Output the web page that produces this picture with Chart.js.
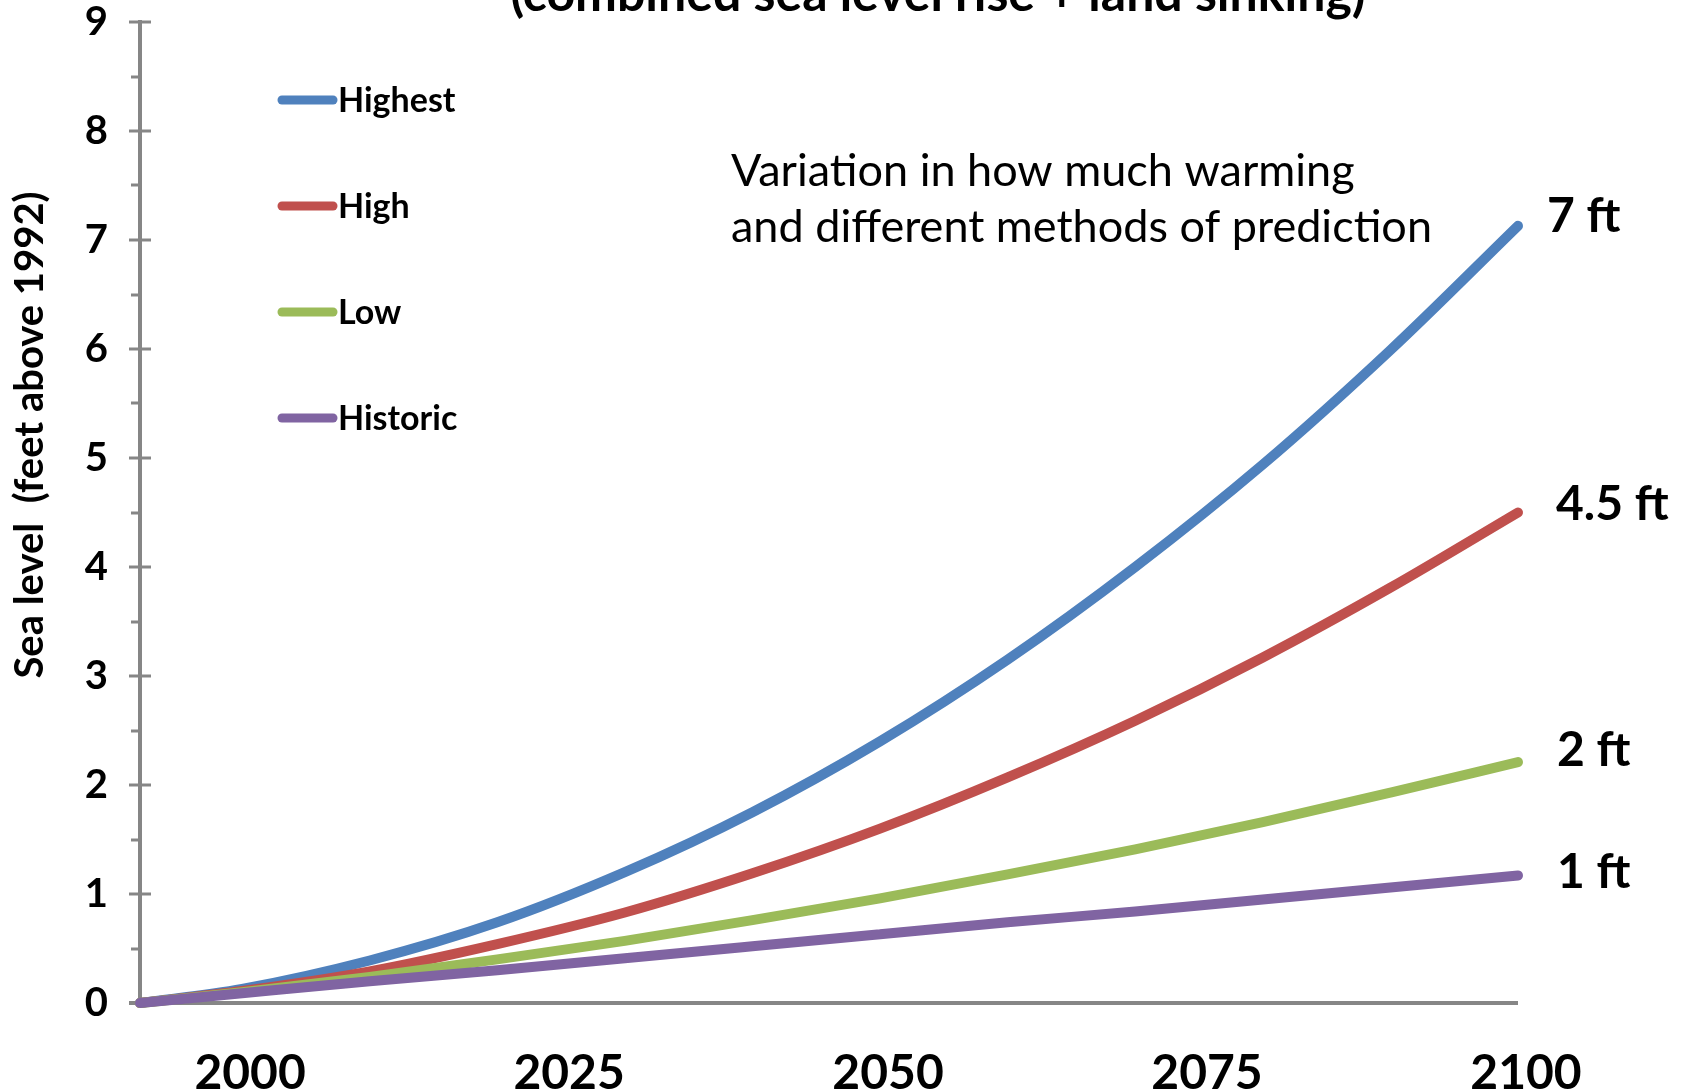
<!DOCTYPE html>
<html>
<head>
<meta charset="utf-8">
<script src="https://cdn.jsdelivr.net/npm/chart.js@4.4.1/dist/chart.umd.min.js"></script>
<style>
  html, body { margin: 0; padding: 0; background: #fff; overflow: hidden; }
  #wrap { width: 1688px; height: 1090px; position: relative; }
</style>
</head>
<body>
<div id="wrap"><canvas id="c" width="1688" height="1090"></canvas></div>
<script>
// Projected sea level (feet above 1992) by scenario
const years    = [1992, 2000, 2010, 2020, 2030, 2040, 2050, 2060, 2070, 2080, 2090, 2100];
const highest  = [0, 0.13, 0.39, 0.74, 1.20, 1.75, 2.40, 3.15, 4.00, 4.94, 5.99, 7.13];
const high     = [0, 0.11, 0.29, 0.54, 0.83, 1.19, 1.60, 2.07, 2.59, 3.17, 3.81, 4.50];
const low      = [0, 0.10, 0.24, 0.40, 0.57, 0.76, 0.96, 1.18, 1.41, 1.66, 1.93, 2.21];
const historic = [0, 0.09, 0.20, 0.30, 0.41, 0.52, 0.63, 0.74, 0.84, 0.95, 1.06, 1.17];

const seriesNames  = ['Highest', 'High', 'Low', 'Historic'];
const seriesValues = [highest, high, low, historic];
const endLabels    = ['7 ft', '4.5 ft', '2 ft', '1 ft'];
const yearTicks    = [2000, 2025, 2050, 2075, 2100];

const titleText = '(combined sea level rise + land sinking)';
const yTitle    = 'Sea level  (feet above 1992)';
const noteLines = ['Variation in how much warming', 'and different methods of prediction'];

const colors = ['#4F81BD', '#C0504D', '#9BBB59', '#8064A2'];
const FONT = 'Lato, "Open Sans", sans-serif';
const AXIS_GREY = '#868686';

const datasets = seriesNames.map((name, i) => ({
  label: name,
  data: years.map((yr, j) => ({ x: yr, y: seriesValues[i][j] })),
  borderColor: colors[i],
  backgroundColor: colors[i],
  borderWidth: 10,
  borderCapStyle: 'round',
  borderJoinStyle: 'round',
  pointRadius: 0,
  cubicInterpolationMode: 'monotone',
  fill: false,
  clip: false,
  order: seriesNames.length - 1 - i   // Historic drawn on top
}));

// Axis lines, crossing major ticks and outside minor ticks
const axesPlugin = {
  id: 'axesPlugin',
  beforeDatasetsDraw(chart) {
    const { ctx, chartArea: a, scales: { x, y } } = chart;
    ctx.save();
    ctx.strokeStyle = AXIS_GREY;
    ctx.lineWidth = 4;
    ctx.lineCap = 'butt';
    ctx.beginPath();
    ctx.moveTo(a.left, y.getPixelForValue(9) - 2);
    ctx.lineTo(a.left, y.getPixelForValue(0));
    ctx.stroke();
    ctx.lineWidth = 3;
    for (let v = 0; v <= 9; v += 0.5) {
      const py = Math.round(y.getPixelForValue(v));
      const major = Number.isInteger(v);
      ctx.beginPath();
      ctx.moveTo(a.left - (major ? 11 : 9), py);
      ctx.lineTo(major ? a.left + 11 : a.left, py);
      ctx.stroke();
    }
    ctx.lineWidth = 4;
    ctx.beginPath();
    const py0 = y.getPixelForValue(0);
    ctx.moveTo(a.left - 11, py0);
    ctx.lineTo(x.getPixelForValue(2100), py0);
    ctx.stroke();
    ctx.restore();
  },
  afterDraw(chart) {
    const { ctx, scales: { x, y } } = chart;
    ctx.save();
    ctx.fillStyle = '#000';

    // title line, mostly above the top edge
    ctx.font = 'bold 50px ' + FONT;
    ctx.textAlign = 'center';
    ctx.textBaseline = 'alphabetic';
    ctx.fillText(titleText, 938, 11);

    // y-axis title
    ctx.save();
    ctx.translate(30, 435);
    ctx.rotate(-Math.PI / 2);
    ctx.font = 'bold 40px ' + FONT;
    ctx.textAlign = 'center';
    ctx.textBaseline = 'middle';
    ctx.fillText(yTitle, 0, 0);
    ctx.restore();

    // legend
    chart.data.datasets.forEach((ds, i) => {
      const ly = 100 + i * 106;
      ctx.strokeStyle = ds.borderColor;
      ctx.lineWidth = 9;
      ctx.lineCap = 'round';
      ctx.beginPath();
      ctx.moveTo(282, ly);
      ctx.lineTo(333, ly);
      ctx.stroke();
      ctx.font = 'bold 34px ' + FONT;
      ctx.textAlign = 'left';
      ctx.textBaseline = 'middle';
      ctx.fillText(ds.label, 338, ly + 1);
    });

    // explanatory note
    ctx.font = '45px ' + FONT;
    ctx.textAlign = 'left';
    ctx.textBaseline = 'alphabetic';
    ctx.fillText(noteLines[0], 731, 186);
    ctx.fillText(noteLines[1], 731, 242);

    // end-of-line labels
    const offs = [[29, -9], [38, -8], [39, -12], [39, -3]];
    ctx.font = 'bold 48px ' + FONT;
    ctx.textBaseline = 'middle';
    chart.data.datasets.forEach((ds, i) => {
      const last = ds.data[ds.data.length - 1];
      const px = x.getPixelForValue(last.x) + offs[i][0];
      const py = y.getPixelForValue(last.y) + offs[i][1];
      ctx.fillText(endLabels[i], px, py);
    });
    ctx.restore();
  }
};

new Chart(document.getElementById('c'), {
  type: 'line',
  data: { datasets },
  options: {
    responsive: false,
    animation: false,
    devicePixelRatio: 1,
    layout: { padding: { left: 0, top: 22, right: 170, bottom: 0 } },
    plugins: { legend: { display: false }, tooltip: { enabled: false }, title: { display: false } },
    scales: {
      x: {
        type: 'linear',
        min: 1992,
        max: 2100,
        afterBuildTicks: s => { s.ticks = yearTicks.map(v => ({ value: v })); },
        afterFit: s => { s.height = 87; s.paddingLeft = 0; s.paddingRight = 0; },
        grid: { display: false, drawTicks: false },
        border: { display: false },
        ticks: {
          autoSkip: false,
          maxRotation: 0,
          padding: 42,
          labelOffset: 8,
          color: '#000',
          font: { family: FONT, size: 48, weight: 'bold' },
          callback: v => String(v)
        }
      },
      y: {
        min: 0,
        max: 9,
        afterFit: s => { s.width = 140; s.paddingTop = 0; s.paddingBottom = 0; },
        grid: { display: false, drawTicks: false },
        border: { display: false },
        ticks: {
          stepSize: 1,
          padding: 32,
          color: '#000',
          font: { family: FONT, size: 40, weight: 'bold' }
        }
      }
    }
  },
  plugins: [axesPlugin]
});
</script>
</body>
</html>
